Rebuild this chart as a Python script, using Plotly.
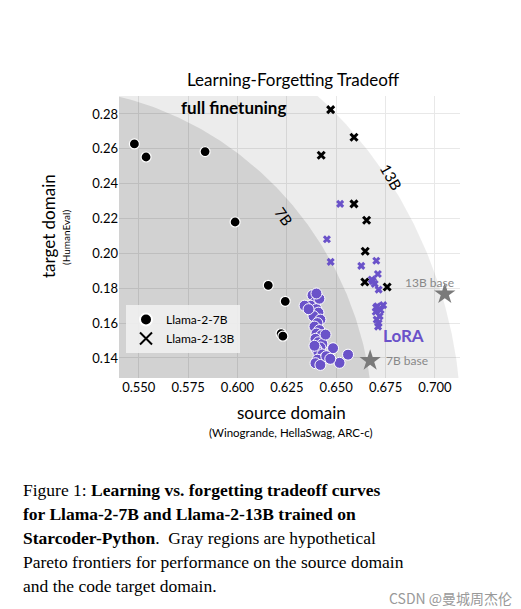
import numpy as np
import plotly.graph_objects as go

x7_ft = [0.5478, 0.5537, 0.5836, 0.5988, 0.6156, 0.6242, 0.6221, 0.6230]
y7_ft = [0.2628, 0.2553, 0.2584, 0.2180, 0.1817, 0.1725, 0.1540, 0.1525]
x13_ft = [0.6472, 0.6590, 0.6424, 0.6590, 0.6654, 0.6647, 0.6645, 0.6758]
y13_ft = [0.2825, 0.2666, 0.2563, 0.2284, 0.2190, 0.2012, 0.1836, 0.1807]
x13_lora = [0.6520, 0.6453, 0.6472, 0.6627, 0.6703, 0.6711, 0.6686, 0.6715, 0.6708, 0.6738,
            0.6700, 0.6720, 0.6705, 0.6715, 0.6725, 0.6680, 0.6695, 0.6712, 0.6702]
y13_lora = [0.2284, 0.2081, 0.1951, 0.1928, 0.1958, 0.1882, 0.1840, 0.1792, 0.1697, 0.1703,
            0.1665, 0.1640, 0.1620, 0.1600, 0.1675, 0.1850, 0.1825, 0.1580, 0.1690]
x7_lora = [0.6380, 0.6395, 0.6370, 0.6400, 0.6410, 0.6385, 0.6420, 0.6405, 0.6390, 0.6415,
           0.6400, 0.6425, 0.6395, 0.6410, 0.6430, 0.6446, 0.6420, 0.6400, 0.6410, 0.6430,
           0.6484, 0.6560, 0.6517, 0.6440, 0.6405, 0.6395, 0.6420, 0.6450, 0.6470, 0.6390,
           0.6340, 0.6360, 0.6415, 0.6400]
y7_lora = [0.1760, 0.1720, 0.1700, 0.1680, 0.1660, 0.1640, 0.1620, 0.1600, 0.1580, 0.1560,
           0.1540, 0.1530, 0.1510, 0.1490, 0.1480, 0.1534, 0.1460, 0.1450, 0.1430, 0.1420,
           0.1456, 0.1419, 0.1372, 0.1400, 0.1390, 0.1370, 0.1360, 0.1410, 0.1395, 0.1470,
           0.1700, 0.1680, 0.1740, 0.1770]
base_x = [0.7050, 0.6672]
base_y = [0.1767, 0.1385]
base_labels = ["13B base", "7B base"]

# hypothetical Pareto frontiers (quarter ellipses)
cx, cy = 0.50, 0.10
frontiers = {"13B": (0.2134, 0.2532, "rgba(0,0,0,0.075)"), "7B": (0.1688, 0.1956, "rgba(0,0,0,0.11)")}

PURPLE = "#6a52c9"
fig = go.Figure()
t = np.linspace(0, np.pi / 2, 200)
for name, (a, b, col) in frontiers.items():
    xs = np.concatenate([[cx], cx + a * np.cos(t), [cx]])
    ys = np.concatenate([[cy], cy + b * np.sin(t), [cy]])
    fig.add_trace(go.Scatter(x=xs, y=ys, fill="toself", fillcolor=col, mode="lines",
                             line=dict(width=0), hoverinfo="skip", showlegend=False))

fig.add_trace(go.Scatter(x=x7_ft, y=y7_ft, mode="markers", name="Llama-2-7B",
                         marker=dict(symbol="circle", size=10, color="black", line=dict(color="white", width=1.2))))
fig.add_trace(go.Scatter(x=x13_ft, y=y13_ft, mode="markers", name="Llama-2-13B",
                         marker=dict(symbol="x-thin", size=7, color="black", line=dict(color="black", width=3))))
fig.add_trace(go.Scatter(x=x7_lora, y=y7_lora, mode="markers", showlegend=False,
                         marker=dict(symbol="circle", size=11, color=PURPLE, line=dict(color="white", width=1))))
fig.add_trace(go.Scatter(x=x13_lora, y=y13_lora, mode="markers", showlegend=False,
                         marker=dict(symbol="x-thin", size=6, color=PURPLE, line=dict(color=PURPLE, width=3))))
fig.add_trace(go.Scatter(x=base_x, y=base_y, mode="markers", showlegend=False,
                         marker=dict(symbol="star", size=16, color="#7a7a7a")))

F = "Lato"
ann = [
    dict(x=0.598, y=0.2835, text="<b>full finetuning</b>", font=dict(size=17, color="black")),
    dict(x=0.684, y=0.153, text="<b>LoRA</b>", font=dict(size=17, color=PURPLE)),
    dict(x=0.6235, y=0.2215, text="7B", textangle=55, font=dict(size=15, color="black")),
    dict(x=0.678, y=0.244, text="13B", textangle=60, font=dict(size=15, color="black")),
    dict(x=0.697, y=0.1835, text=base_labels[0], font=dict(size=12, color="#888")),
    dict(x=0.686, y=0.1385, text=base_labels[1], font=dict(size=12, color="#888")),
]
for a_ in ann:
    a_.update(xref="x", yref="y", showarrow=False)
    a_["font"]["family"] = F

L, R, T, B = 111, 452, 88, 370
def px(x): return (x - L) / (R - L)
def py(y): return (B - y) / (B - T)

paper = [
    dict(x=285, y=72, text="Learning-Forgetting Tradeoff", font=dict(size=17, color="black")),
    dict(x=283, y=404, text="source domain", font=dict(size=17, color="black")),
    dict(x=283, y=424, text="(Winogrande, HellaSwag, ARC-c)", font=dict(size=11.5, color="black")),
    dict(x=40, y=218, text="target domain", textangle=-90, font=dict(size=17, color="black")),
    dict(x=58, y=230, text="(HumanEval)", textangle=-90, font=dict(size=10, color="black")),
]
for p in paper:
    fig.add_annotation(x=px(p["x"]), y=py(p["y"]), xref="paper", yref="paper",
                       text=p["text"], textangle=p.get("textangle", 0), showarrow=False,
                       font=dict(family=F, **p["font"]), xanchor="center", yanchor="middle")

caption = ["Figure 1: <b>Learning vs. forgetting tradeoff curves</b>",
           "<b>for Llama-2-7B and Llama-2-13B trained on</b>",
           "<b>Starcoder-Python</b>.  Gray regions are hypothetical",
           "Pareto frontiers for performance on the source domain",
           "and the code target domain."]
for i, line in enumerate(caption):
    fig.add_annotation(x=px(13), y=py(482 + i * 24), xref="paper", yref="paper",
                       text=line, showarrow=False, xanchor="left", yanchor="middle",
                       font=dict(family="Liberation Serif", size=17.5, color="black"))
fig.add_annotation(x=px(506), y=py(590), xref="paper", yref="paper", text="CSDN @曼城周杰伦",
                   showarrow=False, xanchor="right", yanchor="middle",
                   font=dict(family="Noto Sans CJK SC", size=14, color="#999"))

for a_ in ann:
    fig.add_annotation(**a_)

fig.update_layout(
    width=521, height=609, margin=dict(l=L, r=521 - R, t=T, b=609 - B),
    paper_bgcolor="white", plot_bgcolor="white",
    font=dict(family=F, size=13, color="black"),
    legend=dict(x=px(118), y=py(345), xanchor="left", yanchor="bottom", bgcolor="rgba(240,240,240,0.9)",
                font=dict(size=12, family=F), itemsizing="constant"),
    xaxis=dict(range=[0.540, 0.7127], tickvals=[0.55, 0.575, 0.6, 0.625, 0.65, 0.675, 0.7],
               ticktext=["0.550", "0.575", "0.600", "0.625", "0.650", "0.675", "0.700"],
               showgrid=True, gridcolor="#e8e8e8", zeroline=False, showline=False, ticks=""),
    yaxis=dict(range=[0.1285, 0.2903], tickvals=[0.14, 0.16, 0.18, 0.2, 0.22, 0.24, 0.26, 0.28],
               tickformat=".2f", showgrid=True, gridcolor="#e8e8e8", zeroline=False, showline=False, ticks=""),
)
fig.write_html("out.html")
